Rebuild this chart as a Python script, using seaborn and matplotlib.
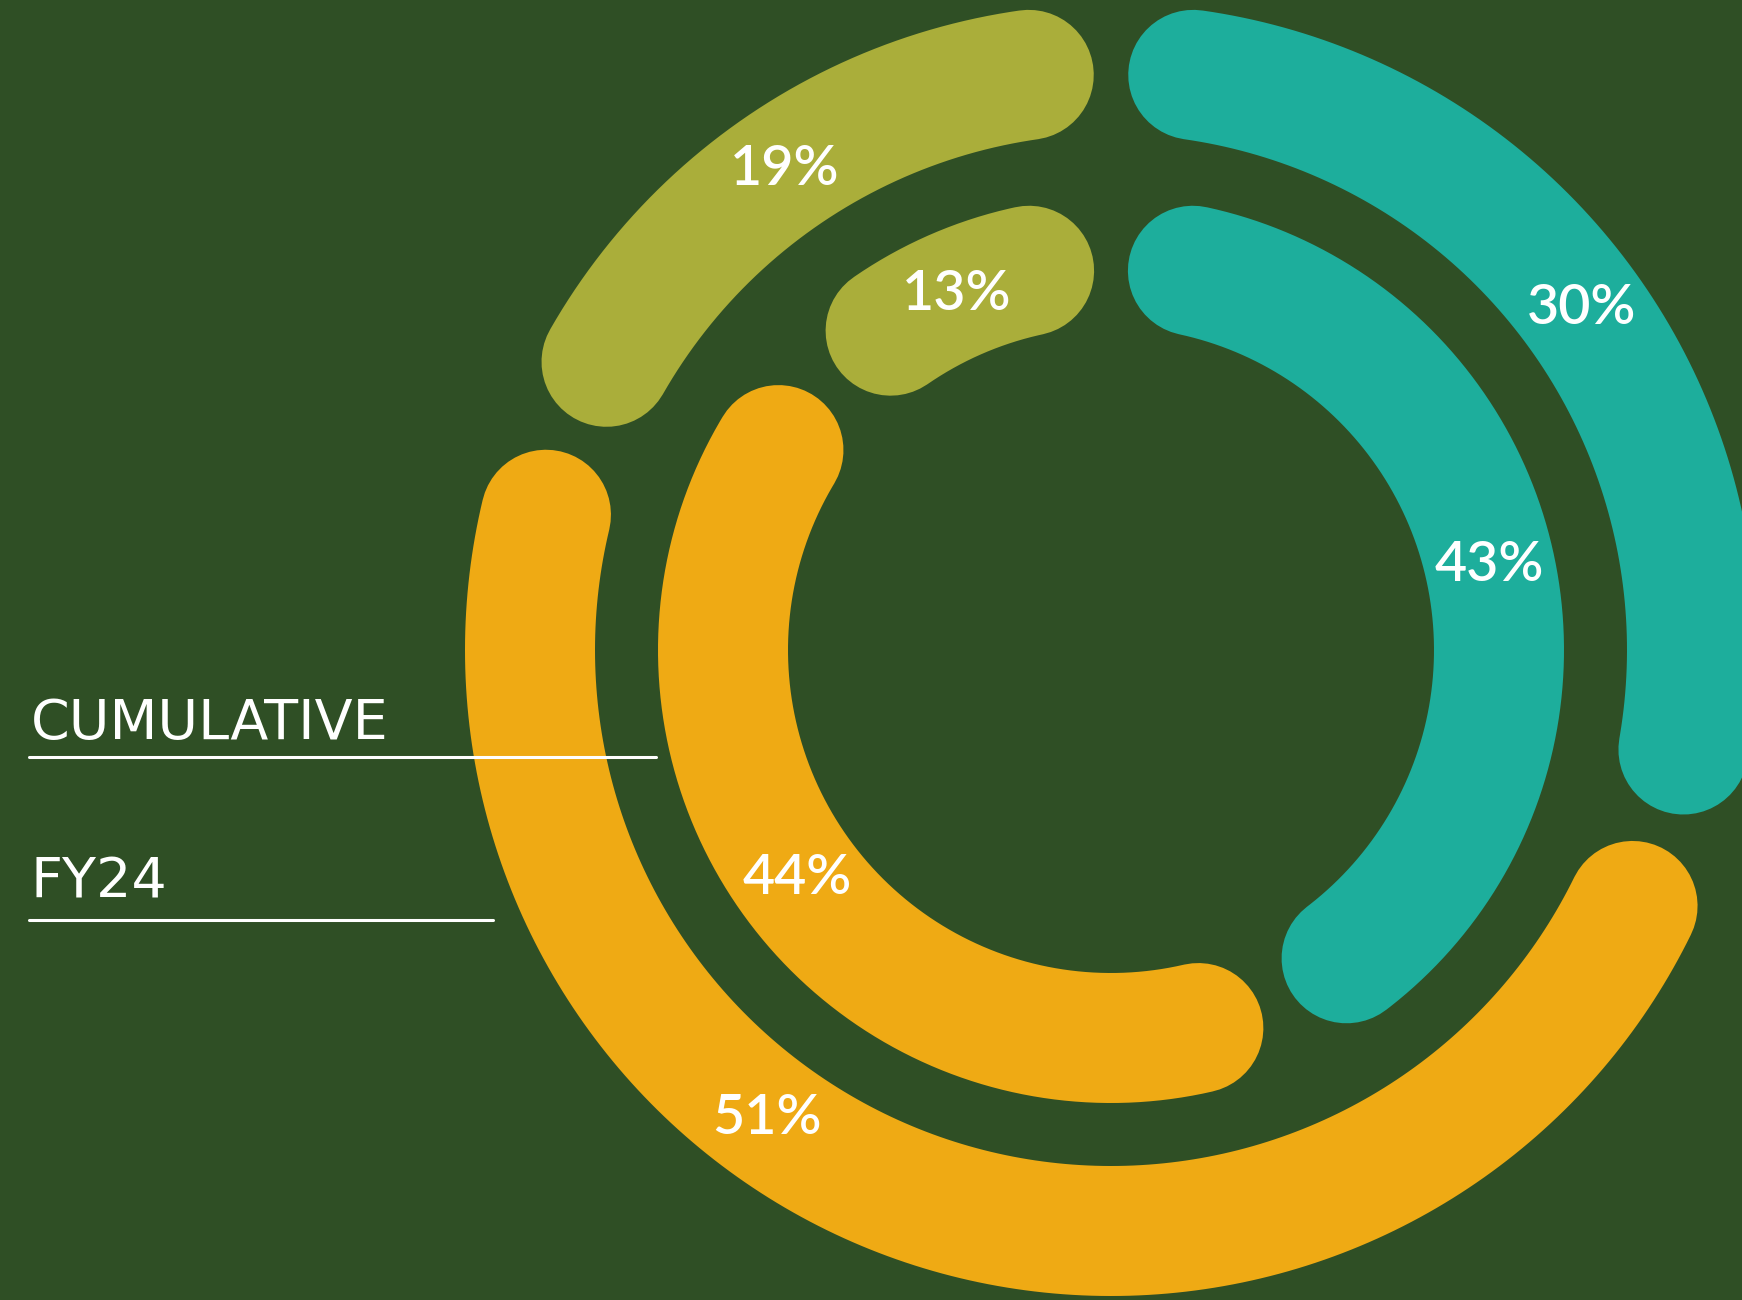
import numpy as np
import pandas as pd
import seaborn as sns
import matplotlib.pyplot as plt

# 数据
categories = ['teal', 'orange', 'olive']
cumulative = [30, 51, 19]   # 外圈
fy24 = [43, 44, 13]         # 内圈
colors = {'teal': '#1DAE9C', 'orange': '#EFAA14', 'olive': '#AAAE3A'}
legend_labels = ['CUMULATIVE', 'FY24']

bg = '#2F4F25'
W, H, DPI = 1742, 1300, 100
cx, cy = 1111, 650          # 圆心（像素）
rings = [('outer', cumulative, 581), ('inner', fy24, 388)]
gap_px = 165                # 相邻两段端点之间的弧长
lw_pt = 130 * 72 / DPI
label_pos = {('outer', 'orange'): 0.59}

sns.set_theme(style='white')
plt.rcParams['font.family'] = ['Lato', 'DejaVu Sans']

fig = plt.figure(figsize=(W / DPI, H / DPI), dpi=DPI, facecolor=bg)
ax = fig.add_axes([0, 0, 1, 1])
ax.set_facecolor(bg)

rows = []
labels = []
for ring, vals, r in rings:
    half_gap = np.degrees(gap_px / 2 / r)
    start = 90.0
    for cat, v in zip(categories, vals):
        span = v / 100 * 360
        a0, a1 = start - half_gap, start - span + half_gap
        for a in np.linspace(a0, a1, 200):
            rows.append({'seg': f'{ring}-{cat}', 'x': r * np.cos(np.radians(a)),
                         'y': r * np.sin(np.radians(a))})
        f = label_pos.get((ring, cat), 0.5)
        am = np.radians(start - span * f)
        labels.append((r * np.cos(am), r * np.sin(am), f'{v}%'))
        start -= span
df = pd.DataFrame(rows)
palette = {s: colors[s.split('-')[1]] for s in df['seg'].unique()}

sns.lineplot(data=df, x='x', y='y', hue='seg', palette=palette, sort=False,
             estimator=None, linewidth=lw_pt, solid_capstyle='round',
             legend=False, ax=ax)

for x, y, t in labels:
    ax.text(x, y, t, color='white', fontsize=40, ha='center', va='center',
            fontweight='semibold')

# 左侧标签与下划线
ax.text(31 - cx, cy - 739, legend_labels[0], color='white', fontsize=40,
        ha='left', va='baseline', family=['DejaVu Sans'])
ax.plot([29 - cx, 656 - cx], [cy - 757, cy - 757], color='white', lw=2.2)
ax.text(31 - cx, cy - 897, legend_labels[1], color='white', fontsize=40,
        ha='left', va='baseline', family=['DejaVu Sans'])
ax.plot([29 - cx, 493 - cx], [cy - 920, cy - 920], color='white', lw=2.2)

ax.set_xlim(-cx, W - cx)
ax.set_ylim(cy - H, cy)
ax.set_aspect('equal')
ax.axis('off')

plt.savefig('out.png', dpi=DPI, facecolor=bg)
